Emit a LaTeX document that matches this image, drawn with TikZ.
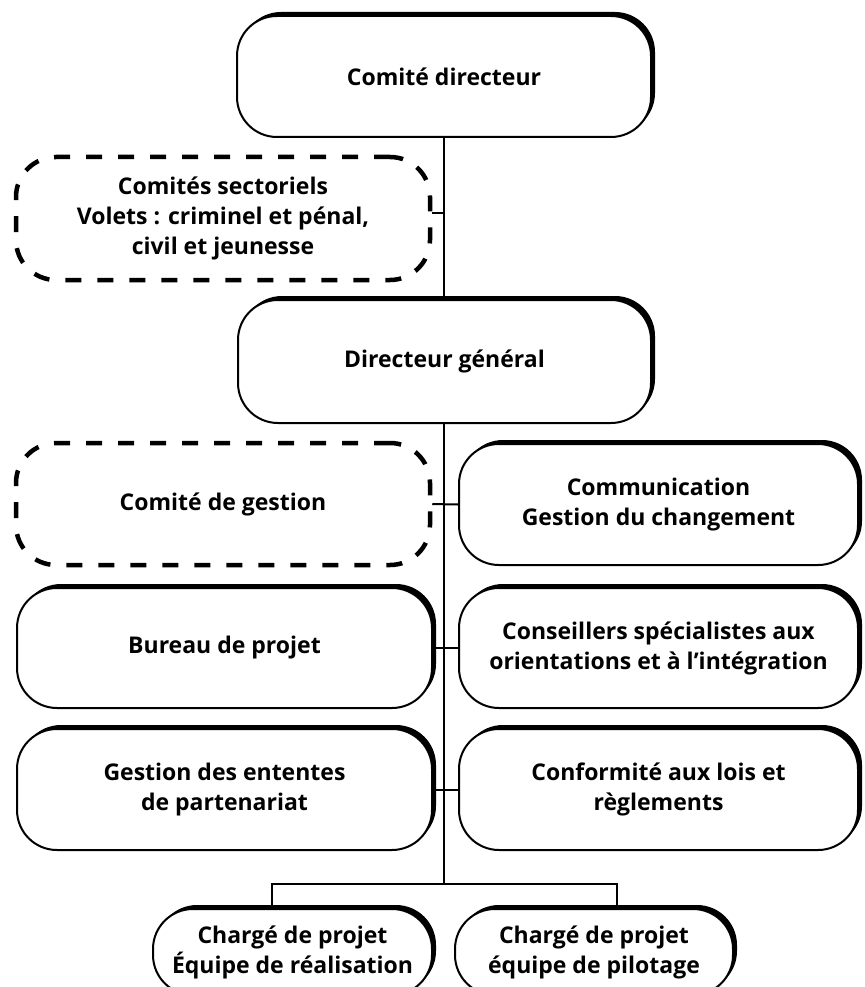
\documentclass[tikz,border=0pt]{standalone}
\usepackage{fontspec}
\setmainfont{Open Sans}
\usetikzlibrary{shadows,backgrounds}
\begin{document}
\begin{tikzpicture}[x=1pt,y=-1pt,
  txt/.style={align=center, font=\bfseries\fontsize{23}{30}\selectfont, inner sep=0pt},
  box/.style={txt, draw, line width=2pt, fill=white, rounded corners=40pt,
    drop shadow={shadow xshift=4pt, shadow yshift=4pt, opacity=1, fill=black}},
  dbox/.style={txt, draw, line width=4.5pt, dash pattern=on 16pt off 16pt, rounded corners=40pt},
  link/.style={line width=2pt}]
\useasboundingbox (0,0) rectangle (864,987);
\begin{scope}
\clip (0,0) rectangle (864,987);
% top
\node[box, minimum width=414pt, minimum height=121pt] (cd) at (444,76.5) {Comité directeur};
\node[dbox, minimum width=414pt, minimum height=123pt] (cs) at (223,218.5) {Comités sectoriels\\Volets~: criminel et pénal,\\civil et jeunesse};
\node[box, minimum width=413pt, minimum height=123pt] (dg) at (444.5,361.5) {Directeur général};
% rows
\node[dbox, minimum width=414pt, minimum height=122pt] (cg) at (223,504) {Comité de gestion};
\node[box, minimum width=399pt, minimum height=121pt] (com) at (658.5,504.5) {Communication\\Gestion du changement};
\node[box, minimum width=415pt, minimum height=120pt] (bp) at (224.5,648) {Bureau de projet};
\node[box, minimum width=399pt, minimum height=120pt] (cons) at (658.5,648) {Conseillers spécialistes aux\\orientations et à l’intégration};
\node[box, minimum width=415pt, minimum height=121pt] (ge) at (224.5,789.5) {Gestion des ententes\\de partenariat};
\node[box, minimum width=399pt, minimum height=121pt] (conf) at (658.5,789.5) {Conformité aux lois et\\règlements};
% bottom
\node[box, minimum width=279pt, minimum height=86pt] (ch1) at (292.5,952) {Chargé de projet\\Équipe de réalisation};
\node[box, minimum width=278pt, minimum height=86pt] (ch2) at (594,952) {Chargé de projet\\équipe de pilotage};
% connectors
\coordinate (busmid) at (444,884);
\coordinate (busl) at (272,884);
\coordinate (busr) at (617,884);
\begin{scope}[on background layer]
\fill[white] (0,0) rectangle (864,987);
\draw[link] (cd.south) -- (busmid);
\draw[link] ([yshift=6pt]cs.east) -- ([yshift=6pt]cs.east -| cd.south);
\draw[link] (cg.east) -- (com.west);
\draw[link] (bp.east) -- (cons.west);
\draw[link] (ge.east) -- (conf.west);
\draw[link] (busl |- ch1.north) -- (busl) -- (busr) -- (busr |- ch2.north);
\end{scope}
\end{scope}
\end{tikzpicture}
\end{document}
